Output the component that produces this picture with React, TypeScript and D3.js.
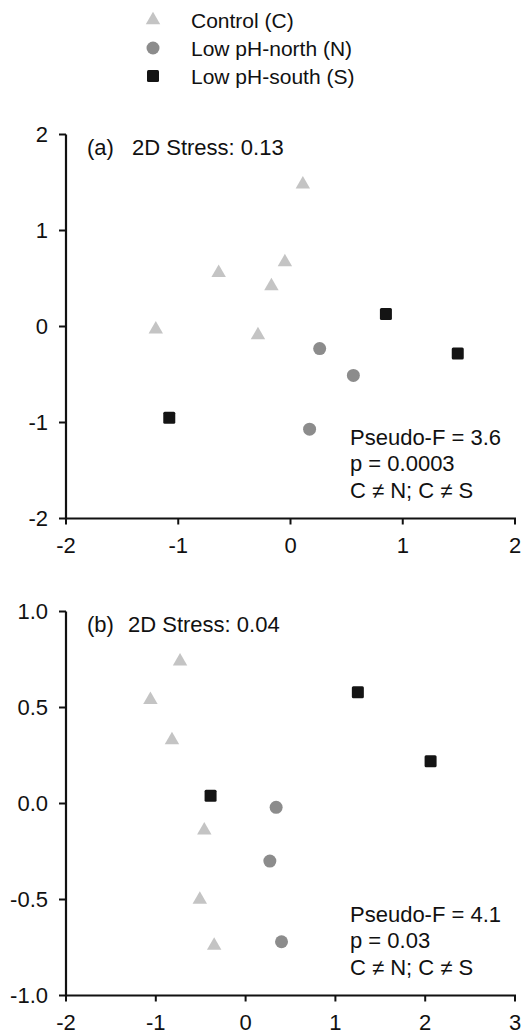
import React from "react";
import * as d3 from "d3";

// ---- data ----
const seriesNames = ["Control (C)", "Low pH-north (N)", "Low pH-south (S)"];

const controlA: [number, number][] = [[0.11, 1.48], [-0.64, 0.56], [-0.05, 0.67], [-0.17, 0.42], [-1.2, -0.03], [-0.29, -0.09]];
const northA: [number, number][] = [[0.26, -0.23], [0.56, -0.51], [0.17, -1.07]];
const southA: [number, number][] = [[0.85, 0.13], [1.49, -0.28], [-1.08, -0.95]];

const controlB: [number, number][] = [[-0.73, 0.74], [-1.06, 0.54], [-0.82, 0.33], [-0.46, -0.14], [-0.51, -0.5], [-0.35, -0.74]];
const northB: [number, number][] = [[0.34, -0.02], [0.27, -0.3], [0.4, -0.72]];
const southB: [number, number][] = [[1.25, 0.58], [2.06, 0.22], [-0.39, 0.04]];

const xTicksA = [-2, -1, 0, 1, 2];
const yTicksA = [-2, -1, 0, 1, 2];
const xTicksB = [-2, -1, 0, 1, 2, 3];
const yTicksB = [-1.0, -0.5, 0.0, 0.5, 1.0];

const statsA = ["Pseudo-F = 3.6", "p = 0.0003", "C \u2260 N; C \u2260 S"];
const statsB = ["Pseudo-F = 4.1", "p = 0.03", "C \u2260 N; C \u2260 S"];

const COLORS = ["#c4c4c4", "#8c8c8c", "#141414"];
const FONT = "'Liberation Sans', Arial, sans-serif";

const triPath = d3.symbol(d3.symbolTriangle, 90)() as string;

// d3.format gives a unicode minus, the figure uses a plain hyphen
const hyphen = (f: (v: number) => string) => (v: number) => f(v).replace("\u2212", "-");

function Marker({ kind, x, y }: { kind: number; x: number; y: number }) {
  if (kind === 0) return <path d={triPath} transform={`translate(${x},${y})`} fill={COLORS[0]} />;
  if (kind === 1) return <circle cx={x} cy={y} r={6.5} fill={COLORS[1]} />;
  return <rect x={x - 6} y={y - 6} width={12} height={12} rx={1.5} fill={COLORS[2]} />;
}

function Panel({
  top, label, stress, stressX, xDomain, xTicks, yTicks, series, stats, yFmt,
}: {
  top: number; label: string; stress: string; stressX: number;
  xDomain: [number, number]; xTicks: number[]; yTicks: number[];
  series: [number, number][][]; stats: string[]; yFmt: (v: number) => string;
}) {
  const left = 66, right = 515, h = 384;
  const x = d3.scaleLinear().domain(xDomain).range([left, right]);
  const y = d3.scaleLinear().domain([yTicks[0], yTicks[yTicks.length - 1]]).range([top + h, top]);
  const bottom = top + h;
  const xFmt = hyphen(d3.format("d"));

  return (
    <g fontFamily={FONT} fill="#111">
      {/* axes */}
      <line x1={left} x2={left} y1={top} y2={bottom + 1} stroke="#111" strokeWidth={2.2} />
      <line x1={left - 1} x2={right + 1} y1={bottom} y2={bottom} stroke="#111" strokeWidth={2.2} />
      {yTicks.map(t => (
        <g key={"y" + t}>
          <line x1={left - 7} x2={left} y1={y(t)} y2={y(t)} stroke="#111" strokeWidth={2} />
          <text x={48} y={y(t)} dy="0.36em" textAnchor="end" fontSize={22}>{yFmt(t)}</text>
        </g>
      ))}
      {xTicks.map(t => (
        <g key={"x" + t}>
          <line x1={x(t)} x2={x(t)} y1={bottom} y2={bottom + 6} stroke="#111" strokeWidth={2} />
          <text x={x(t)} y={bottom + 34} textAnchor="middle" fontSize={22}>{xFmt(t)}</text>
        </g>
      ))}

      {/* labels */}
      <text x={87} y={top + 20} fontSize={22}>{label}</text>
      <text x={stressX} y={top + 20} fontSize={22}>{stress}</text>
      {stats.map((s, i) => (
        <text key={s} x={350} y={bottom - 74 + i * 26.5} fontSize={22}>{s}</text>
      ))}

      {/* points */}
      {series.map((pts, k) =>
        pts.map((p, i) => <Marker key={k + "-" + i} kind={k} x={x(p[0])} y={y(p[1])} />)
      )}
    </g>
  );
}

export default function App() {
  return (
    <div style={{ position: "absolute", left: 0, top: 0 }}>
      <svg width={526} height={1035} style={{ display: "block", background: "#fff" }}>
        {/* legend */}
        <g fontFamily={FONT} fill="#111">
          {seriesNames.map((n, i) => (
            <g key={n}>
              <Marker kind={i} x={153} y={20 + i * 28} />
              <text x={191} y={20 + i * 28} dy="0.36em" fontSize={21}>{n}</text>
            </g>
          ))}
        </g>

        <Panel
          top={134.5}
          label="(a)"
          stress="2D Stress: 0.13"
          stressX={132}
          xDomain={[-2, 2]}
          xTicks={xTicksA}
          yTicks={yTicksA}
          series={[controlA, northA, southA]}
          stats={statsA}
          yFmt={hyphen(d3.format("d"))}
        />
        <Panel
          top={611.5}
          label="(b)"
          stress="2D Stress: 0.04"
          stressX={128}
          xDomain={[-2, 3]}
          xTicks={xTicksB}
          yTicks={yTicksB}
          series={[controlB, northB, southB]}
          stats={statsB}
          yFmt={hyphen(d3.format(".1f"))}
        />
      </svg>
    </div>
  );
}
